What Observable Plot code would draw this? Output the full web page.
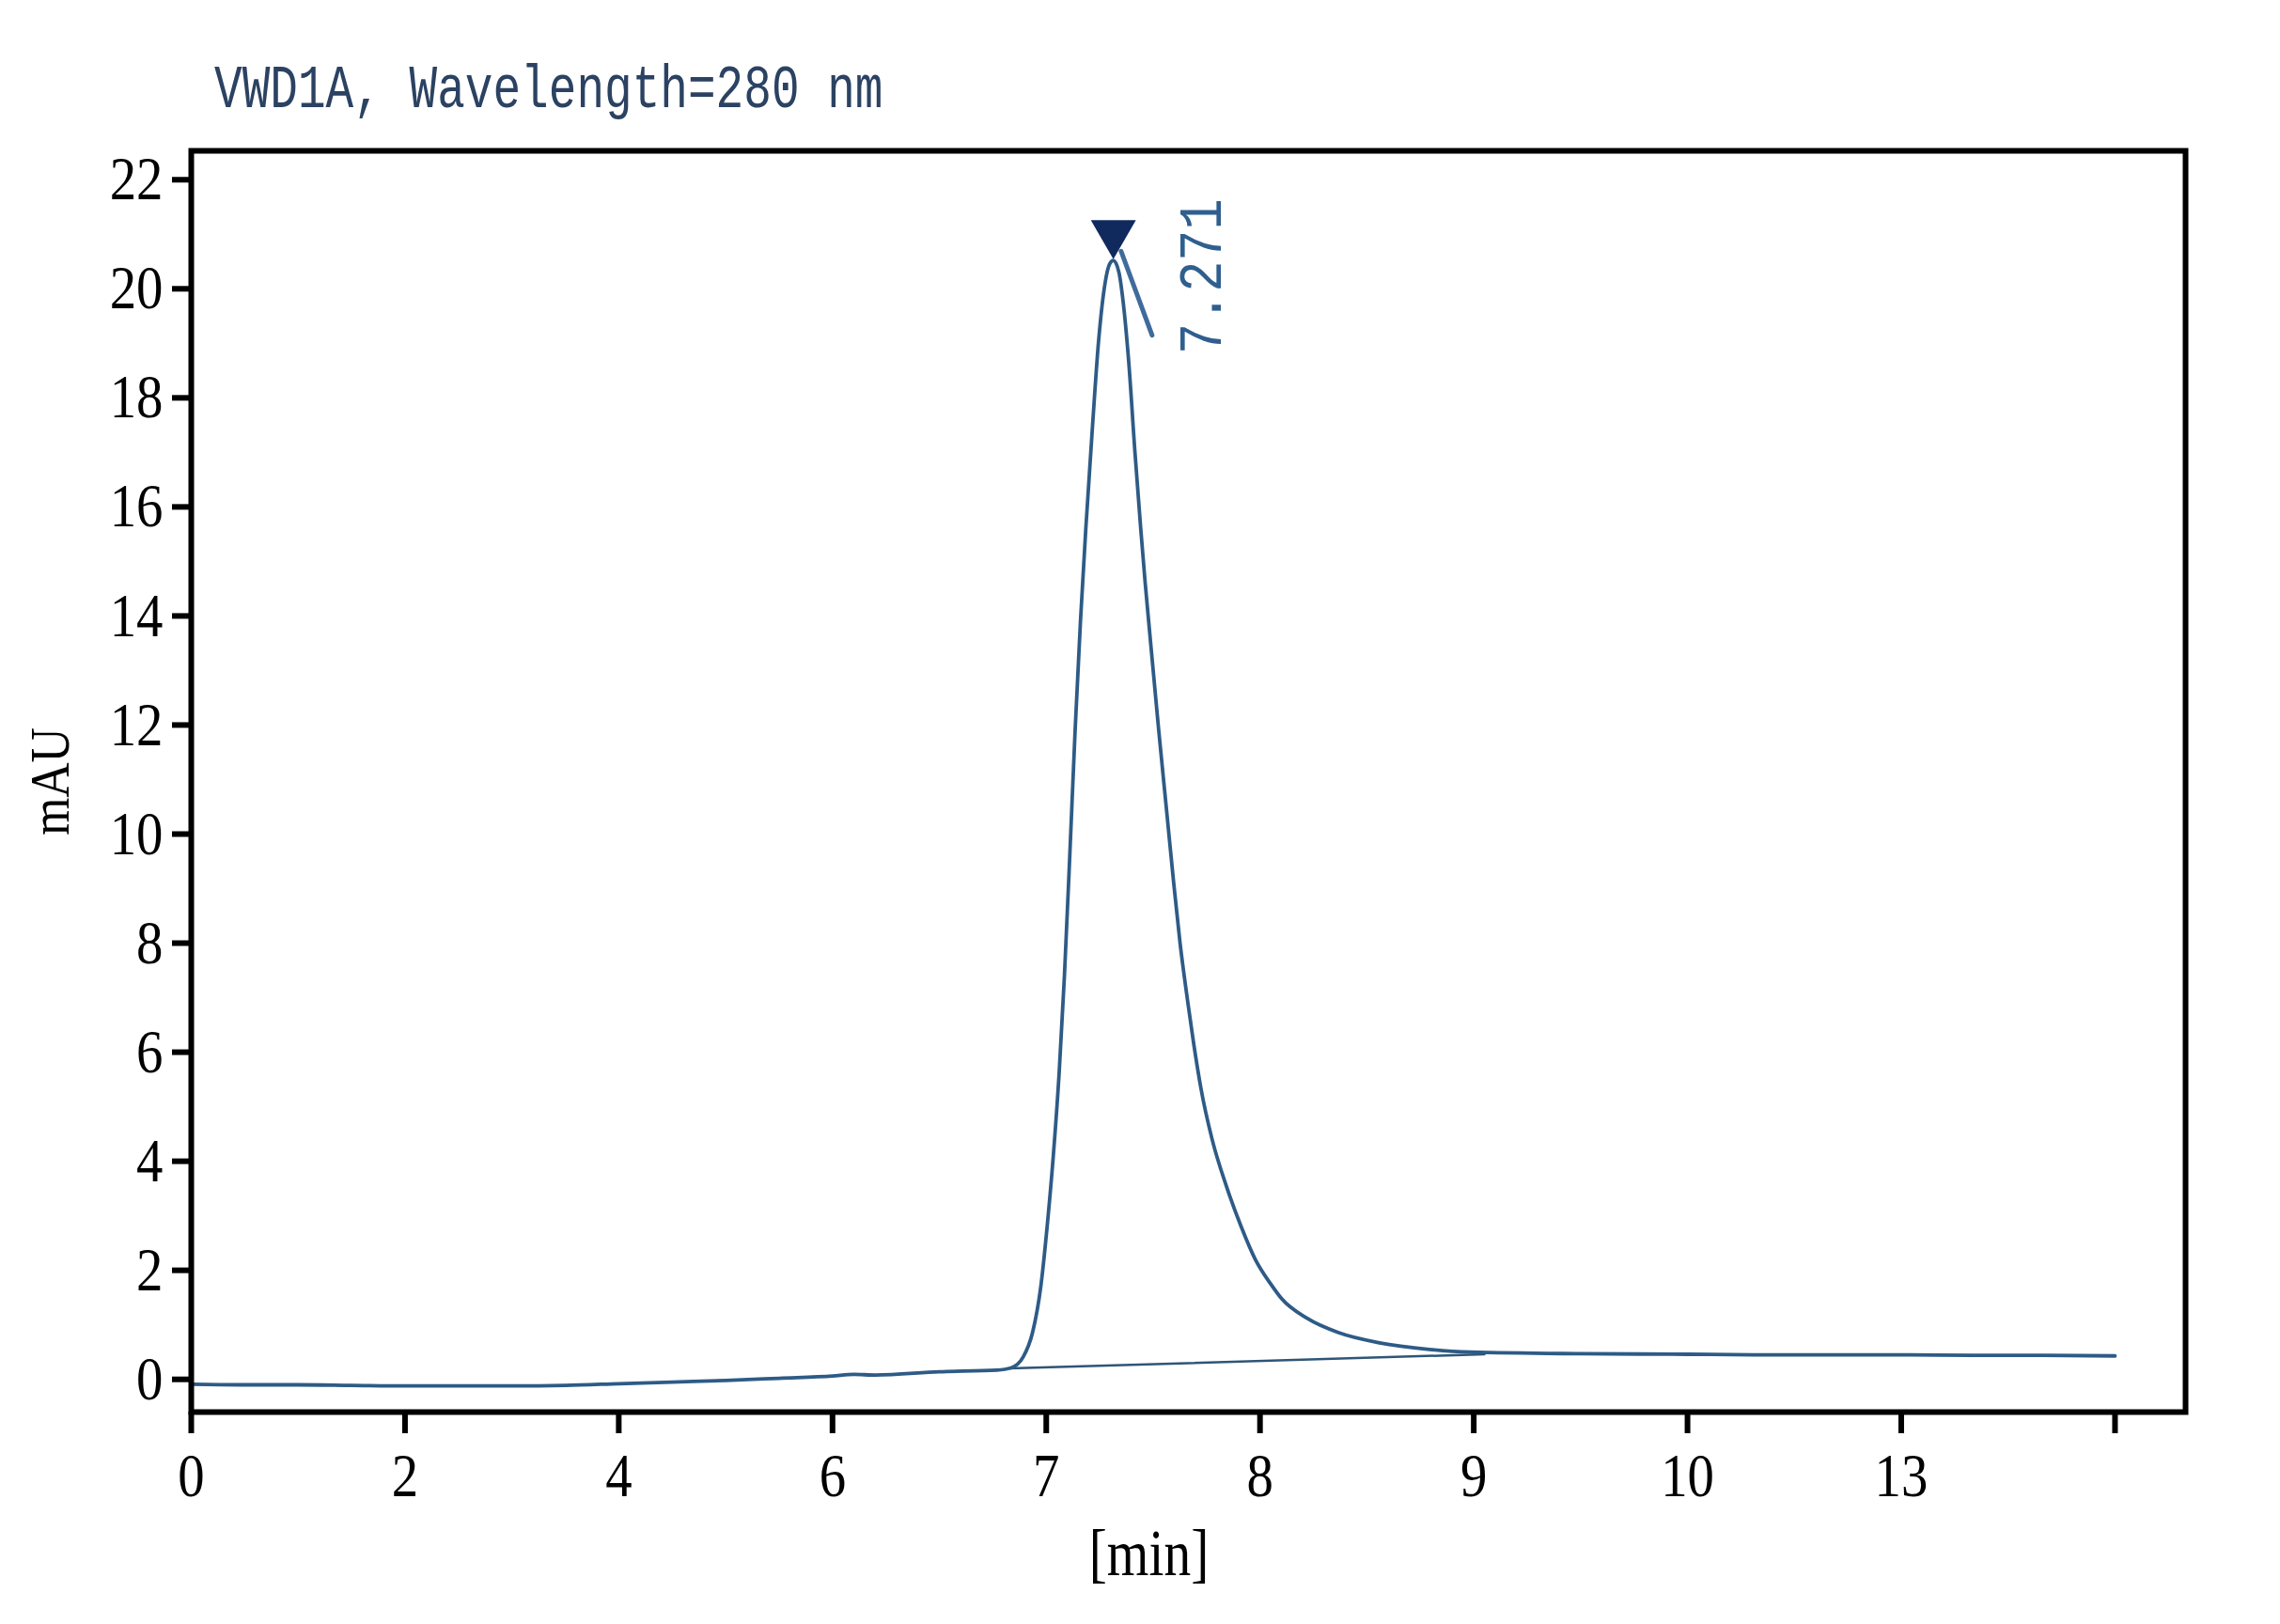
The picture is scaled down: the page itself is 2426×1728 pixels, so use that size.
<!DOCTYPE html>
<html>
<head>
<meta charset="utf-8">
<script src="https://cdn.jsdelivr.net/npm/d3@7"></script>
<script src="https://cdn.jsdelivr.net/npm/@observablehq/plot@0.6"></script>
<style>
  html, body { margin: 0; padding: 0; background: #ffffff; }
  #title { position: relative; width: 2426px; height: 130px; }
  #title span {
    position: absolute; left: 228px; top: 65px;
    font-family: "Liberation Mono", monospace; font-size: 65px; line-height: 65px;
    color: #2b4262; white-space: nowrap;
    transform: scaleX(0.76); transform-origin: 0 0;
  }
</style>
</head>
<body>
<div id="title"><span>VWD1A, Wavelength=280 nm</span></div>
<div id="chart"></div>
<script>
// ---- data ----
const time = [0, 0.5, 1, 1.5, 2, 2.5, 3, 3.5, 4, 4.5, 5, 5.5, 6, 6.1, 6.2, 6.5,
  6.769, 6.835, 6.892, 6.936, 6.975, 7.006, 7.033, 7.060, 7.085, 7.110,
  7.135, 7.160, 7.185, 7.215, 7.245, 7.275, 7.296, 7.314,
  7.340, 7.360, 7.385, 7.415, 7.442, 7.463, 7.485, 7.525, 7.565, 7.595,
  7.626, 7.661, 7.690, 7.723, 7.776, 7.842, 7.912, 7.978, 8.050, 8.101,
  8.220, 8.365, 8.559, 8.792, 8.985,
  9.5, 10, 11, 12, 13, 14, 15, 16];
const signal = [-0.09, -0.10, -0.10, -0.11, -0.12, -0.12, -0.12, -0.11, -0.08, -0.05,
  -0.02, 0.02, 0.06, 0.09, 0.08, 0.14,
  0.17, 0.21, 0.41, 0.86, 1.72, 2.88, 4.10, 5.60, 7.40, 9.60,
  11.90, 13.90, 15.60, 17.40, 19.05, 20.10, 20.45, 20.52,
  20.30, 19.75, 18.70, 17.00, 15.60, 14.60, 13.65, 11.95, 10.35, 9.15,
  8.00, 6.95, 6.15, 5.35, 4.40, 3.55, 2.80, 2.20, 1.75, 1.48,
  1.12, 0.86, 0.67, 0.55, 0.50,
  0.47, 0.46, 0.45, 0.45, 0.45, 0.44, 0.44, 0.43];

// integration baseline of the peak
const baseTime = [6.83, 9.05];
const baseSignal = [0.20, 0.46];

// peak marker + retention-time label
const peakTime = [7.314];
const peakHeight = [20.52];
const peakLabel = ["7.271"];
const tangentTime = [7.35, 7.495];
const tangentSignal = [20.69, 19.15];

// axis ticks (non-uniform time axis)
const xTicks = [0, 2, 4, 6, 7, 8, 9, 10, 13, 16];
const xTickLabels = ["0", "2", "4", "6", "7", "8", "9", "10", "13", ""];
const yTicks = [0, 2, 4, 6, 8, 10, 12, 14, 16, 18, 20, 22];
const yDomain = [-0.60, 22.53];

// ---- layout ----
const W = 2426, H = 1598;
const mL = 203, mR = 101, mT = 30, mB = 226;
const unit = (W - mL - mR) / 9.33;
const xRange = xTicks.map((_, i) => mL + i * unit);

const trace = time.map((t, i) => ({t, v: signal[i]}));
const base = baseTime.map((t, i) => ({t, v: baseSignal[i]}));
const tangent = tangentTime.map((t, i) => ({t, v: tangentSignal[i]}));
const peaks = peakTime.map((t, i) => ({t, v: peakHeight[i], label: peakLabel[i]}));

const downTriangle = {
  draw(context, size) {
    const y = Math.sqrt(size / (3 * Math.sqrt(3)));
    const x = Math.sqrt(3) * y;
    context.moveTo(0, 2 * y);
    context.lineTo(-x, -y);
    context.lineTo(x, -y);
    context.closePath();
  }
};

const curveColor = "#2e5b86";

const plot = Plot.plot({
  width: W, height: H,
  marginLeft: mL, marginRight: mR, marginTop: mT, marginBottom: mB,
  style: {fontFamily: "Liberation Serif, serif", fontSize: "66px", background: "#ffffff", color: "#000000"},
  x: {type: "linear", domain: xTicks, range: xRange},
  y: {domain: yDomain},
  marks: [
    Plot.line(base, {x: "t", y: "v", stroke: "#2f5577", strokeWidth: 2.5}),
    Plot.line(trace, {x: "t", y: "v", stroke: curveColor, strokeWidth: 3.8, curve: "monotone-x"}),
    Plot.line(tangent, {x: "t", y: "v", stroke: "#3f6b9c", strokeWidth: 5, strokeLinecap: "round"}),
    Plot.dot(peaks, {x: "t", y: "v", symbol: downTriangle, r: 17.8, dy: -29, fill: "#112a5e", stroke: "none"}),
    Plot.text(peaks, {x: "t", y: "v", text: "label", rotate: -90, textAnchor: "start", lineAnchor: "bottom",
      dx: 114, dy: 100, fill: "#2f5f8e", fontFamily: "Liberation Mono, monospace", fontSize: 65}),
    Plot.axisY({ticks: yTicks, tickSize: 20, tickPadding: 10, strokeWidth: 6, label: null, fontSize: 66}),
    Plot.axisX({ticks: xTicks, tickSize: 23, tickPadding: 20, strokeWidth: 6, label: null, fontSize: 66,
      tickFormat: d => xTickLabels[xTicks.indexOf(d)]}),
    Plot.text(["mAU"], {frameAnchor: "left", text: d => d, rotate: -90, textAnchor: "middle", lineAnchor: "bottom",
      dx: -131, fill: "#000000", fontSize: 60}),
    Plot.text(["[min]"], {frameAnchor: "bottom", text: d => d, textAnchor: "middle", lineAnchor: "bottom",
      dx: -42, dy: 173, fill: "#000000", fontSize: 70}),
    Plot.frame({stroke: "#000000", strokeWidth: 6})
  ]
});

document.getElementById("chart").appendChild(plot);

// condense glyphs horizontally to match the narrow type of the original
function condense(el, factor) {
  const len = el.getComputedTextLength();
  if (len > 0) {
    el.setAttribute("textLength", (len * factor).toFixed(1));
    el.setAttribute("lengthAdjust", "spacingAndGlyphs");
  }
}
plot.querySelectorAll("text").forEach(el => {
  const s = el.textContent;
  if (s === "7.271") condense(el, 0.85);
  else if (s === "mAU") condense(el, 0.86);
  else if (s === "[min]") condense(el, 0.82);
  else condense(el, 0.86);
});
</script>
</body>
</html>
